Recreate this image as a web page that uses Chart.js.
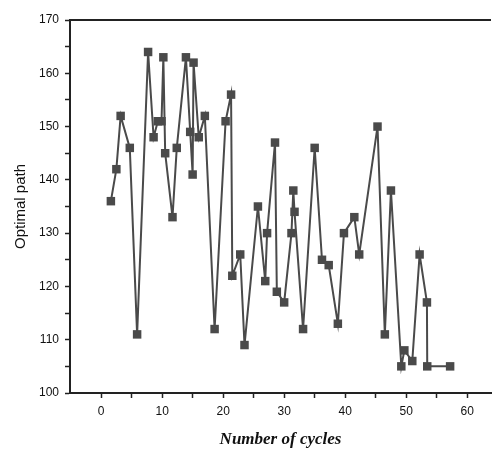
<!DOCTYPE html>
<html lang="en">
<head>
  <meta charset="UTF-8">
  <title>Optimal path vs cycles</title>
  <style>
    body {
      margin: 0;
      padding: 0;
      background-color: #fff;
    }

    .chart-container {
      width: 497px;
      height: 456px;
    }
  </style>
</head>
<body>

  <div class="chart-container">
    <canvas id="pathChart" width="497" height="456"></canvas>
  </div>

  <script src="https://cdn.jsdelivr.net/npm/chart.js"></script>
  <script>
    // values
    const cycles = [1.6, 2.5, 3.2, 4.7, 5.9, 7.7, 8.6, 9.3, 9.9, 10.2, 10.5, 11.7, 12.4, 13.9, 14.6, 15.0, 15.15, 16.0, 17.0, 18.6,
      20.4, 21.3, 21.5, 22.8, 23.5, 25.7, 26.9, 27.2, 28.5, 28.8, 30.0, 31.2, 31.5, 31.7, 33.1, 35.0, 36.2, 37.3, 38.8, 39.8,
      41.5, 42.3, 45.3, 46.5, 47.5, 49.2, 49.7, 51.0, 52.2, 53.4, 53.45, 57.2];
    const optimalPath = [136, 142, 152, 146, 111, 164, 148, 151, 151, 163, 145, 133, 146, 163, 149, 141, 162, 148, 152, 112,
      151, 156, 122, 126, 109, 135, 121, 130, 147, 119, 117, 130, 138, 134, 112, 146, 125, 124, 113, 130,
      133, 126, 150, 111, 138, 105, 108, 106, 126, 117, 105, 105];

    const xTickLabels = [0, 10, 20, 30, 40, 50, 60];
    const yTickLabels = [100, 110, 120, 130, 140, 150, 160, 170];

    const points = cycles.map((c, i) => ({ x: c, y: optimalPath[i] }));
    const ink = '#4a4a4a';
    const axisInk = '#222';

    const topBorder = {
      id: 'topBorder',
      afterDraw(chart) {
        const { ctx, chartArea } = chart;
        ctx.save();
        ctx.strokeStyle = axisInk;
        ctx.lineWidth = 2;
        ctx.beginPath();
        ctx.moveTo(chartArea.left, chartArea.top);
        ctx.lineTo(chartArea.right, chartArea.top);
        ctx.stroke();
        ctx.restore();
      }
    };

    function keepSteps(scale, lo, hi) {
      scale.ticks = scale.ticks.filter(t => t.value >= lo && t.value <= hi && t.value % 5 === 0);
    }

    new Chart(document.getElementById('pathChart'), {
      type: 'scatter',
      data: {
        datasets: [{
          data: points,
          showLine: true,
          borderColor: ink,
          borderWidth: 2,
          backgroundColor: ink,
          pointStyle: 'rect',
          pointRadius: 6,
          pointBorderWidth: 0,
          pointBackgroundColor: ink
        }]
      },
      options: {
        responsive: false,
        animation: false,
        layout: { padding: { top: 20, right: 0, left: 0, bottom: 0 } },
        plugins: {
          legend: { display: false },
          tooltip: { enabled: false }
        },
        scales: {
          x: {
            type: 'linear',
            min: -5.1,
            max: 63.9,
            afterFit: s => { s.height = 63; },
            afterBuildTicks: s => keepSteps(s, 0, 60),
            border: { color: axisInk, width: 2 },
            grid: { drawOnChartArea: false, drawTicks: true, tickLength: 5, tickColor: axisInk, tickWidth: 1.5 },
            ticks: {
              stepSize: 5,
              includeBounds: false,
              padding: 6,
              color: '#111',
              font: { family: 'Liberation Sans', size: 12 },
              callback: v => xTickLabels.includes(v) ? String(v) : ''
            },
            title: {
              display: true,
              text: 'Number of cycles',
              color: '#111',
              padding: { top: 0, bottom: 6 },
              font: { family: 'Liberation Serif', size: 17, style: 'italic', weight: 'bold' }
            }
          },
          y: {
            min: 100,
            max: 170,
            afterFit: s => { s.width = 70; },
            afterBuildTicks: s => keepSteps(s, 100, 170),
            border: { color: axisInk, width: 2 },
            grid: { drawOnChartArea: false, drawTicks: true, tickLength: 5, tickColor: axisInk, tickWidth: 1.5 },
            ticks: {
              stepSize: 5,
              includeBounds: false,
              padding: 6,
              color: '#111',
              font: { family: 'Liberation Sans', size: 12 },
              callback: v => yTickLabels.includes(v) ? String(v) : ''
            },
            title: {
              display: true,
              text: 'Optimal path',
              color: '#111',
              padding: { top: 12, bottom: 0 },
              font: { family: 'Liberation Sans', size: 15 }
            }
          }
        }
      },
      plugins: [topBorder]
    });
  </script>

</body>
</html>
